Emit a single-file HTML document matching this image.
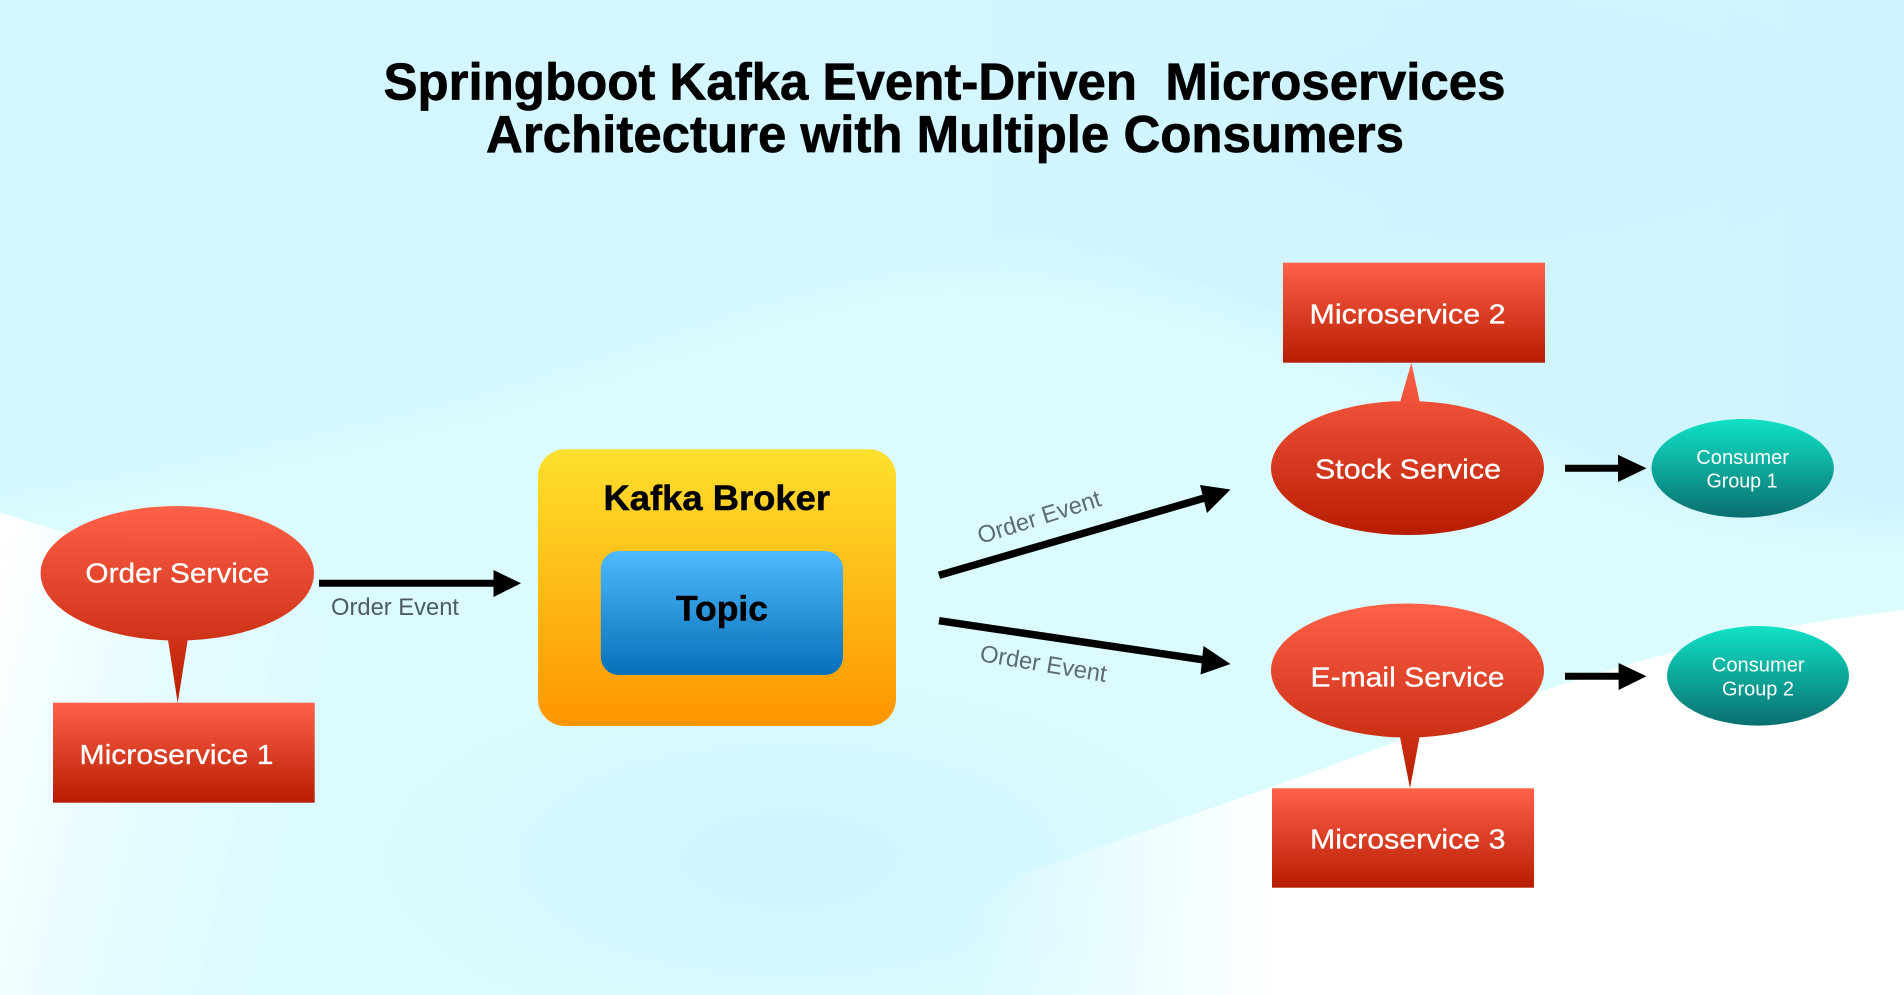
<!DOCTYPE html>
<html lang="en">
<head>
<meta charset="utf-8">
<title>Springboot Kafka Event-Driven Microservices</title>
<style>
html,body{margin:0;padding:0;width:1904px;height:995px;overflow:hidden;background:#fff}
svg{display:block}
text{font-family:"Liberation Sans",Arial,sans-serif}
.w{fill:#fff;stroke:#fff;stroke-width:.3px}
</style>
</head>
<body>
<svg width="1904" height="995" viewBox="0 0 1904 995" xmlns="http://www.w3.org/2000/svg">
<defs>
<linearGradient id="red" x1="0" y1="0" x2="0" y2="1"><stop offset="0" stop-color="#ff6149"/><stop offset="1" stop-color="#b71c00"/></linearGradient>
<linearGradient id="teal" x1="0" y1="0" x2="0" y2="1"><stop offset="0" stop-color="#10e2c6"/><stop offset="1" stop-color="#0a6f70"/></linearGradient>
<linearGradient id="yellow" x1="0" y1="0" x2="0" y2="1"><stop offset="0" stop-color="#fde02e"/><stop offset="1" stop-color="#ff9500"/></linearGradient>
<linearGradient id="blue" x1="0" y1="0" x2="0" y2="1"><stop offset="0" stop-color="#4fbaff"/><stop offset="1" stop-color="#0670b8"/></linearGradient>
<linearGradient id="whL" gradientUnits="userSpaceOnUse" x1="0" y1="560" x2="360" y2="640"><stop offset="0" stop-color="#fff"/><stop offset=".14" stop-color="#fff" stop-opacity=".75"/><stop offset=".55" stop-color="#fff" stop-opacity=".25"/><stop offset="1" stop-color="#fff" stop-opacity="0"/></linearGradient>
<linearGradient id="whR" gradientUnits="userSpaceOnUse" x1="960" y1="0" x2="1285" y2="0"><stop offset="0" stop-color="#fff" stop-opacity="0"/><stop offset=".35" stop-color="#fff" stop-opacity=".3"/><stop offset="1" stop-color="#fff"/></linearGradient>
<radialGradient id="blobA" gradientUnits="userSpaceOnUse" cx="790" cy="860" r="190" gradientTransform="translate(790 860) scale(2.263 1) translate(-790 -860)"><stop offset="0" stop-color="#cdf3ff"/><stop offset="1" stop-color="#cdf3ff" stop-opacity="0"/></radialGradient>
<radialGradient id="blobB" gradientUnits="userSpaceOnUse" cx="1500" cy="120" r="170" gradientTransform="translate(1500 120) scale(2.47 1) translate(-1500 -120)"><stop offset="0" stop-color="#cdf3ff"/><stop offset="1" stop-color="#cdf3ff" stop-opacity="0"/></radialGradient>
<linearGradient id="topw" gradientUnits="userSpaceOnUse" x1="0" y1="0" x2="1904" y2="0"><stop offset="0" stop-color="#d4f7ff"/><stop offset=".5" stop-color="#d3f6ff"/><stop offset="1" stop-color="#d0f4ff"/></linearGradient>
<filter id="b1" filterUnits="userSpaceOnUse" x="0" y="0" width="1904" height="995"><feGaussianBlur stdDeviation="16"/></filter>
</defs>

<rect width="1904" height="995" fill="#dbfbff"/>
<path d="M-60,-60H1964V530C1780,535 1660,510 1500,430C1340,350 1130,270 960,270C780,280 620,370 400,420C250,455 100,490 -60,510Z" fill="url(#topw)" filter="url(#b1)"/>
<rect x="360" y="670" width="860" height="325" fill="url(#blobA)" opacity=".8"/>
<rect x="1080" y="0" width="824" height="290" fill="url(#blobB)" opacity=".6"/>
<path d="M0,513C60,530 200,575 310,610C400,635 500,650 600,680V995H0Z" fill="url(#whL)"/>
<path d="M1904,610C1800,622 1700,640 1545,690C1450,720 1350,760 1240,798C1160,826 1090,850 1036,870C980,900 930,950 900,995H1904Z" fill="url(#whR)"/>

<text x="383.5" y="99.5" font-size="52" font-weight="700" fill="#000" stroke="#000" stroke-width=".7" textLength="1122" lengthAdjust="spacingAndGlyphs" xml:space="preserve">Springboot Kafka Event-Driven &#160;Microservices</text>
<text x="486" y="152" font-size="52" font-weight="700" fill="#000" stroke="#000" stroke-width=".7" textLength="918" lengthAdjust="spacingAndGlyphs">Architecture with Multiple Consumers</text>

<!-- Order Service -->
<path d="M40.6,573.3A136.7,67.3 0 1 1 314,573.3A136.7,67.3 0 1 1 40.6,573.3ZM189.3,630L177.7,703L166.5,630Z" fill="url(#red)"/>
<text class="w" x="85.4" y="582.7" font-size="28" textLength="184" lengthAdjust="spacingAndGlyphs">Order Service</text>
<rect x="53" y="702.7" width="261.7" height="100" fill="url(#red)"/>
<text class="w" x="79.5" y="764" font-size="28" textLength="194" lengthAdjust="spacingAndGlyphs">Microservice 1</text>

<!-- Arrow 1 -->
<path d="M319,583.3H500" stroke="#000" stroke-width="7" fill="none"/>
<polygon points="493.5,570 521,583.3 493.5,597" fill="#000"/>
<text x="331" y="615" font-size="24" fill="#4c5b66" textLength="128" lengthAdjust="spacingAndGlyphs">Order Event</text>

<!-- Broker -->
<rect x="538" y="449.3" width="358" height="276.7" rx="27" ry="27" fill="url(#yellow)"/>
<text x="603.5" y="510" font-size="35" font-weight="700" fill="#000" stroke="#000" stroke-width=".5" textLength="226.5" lengthAdjust="spacingAndGlyphs">Kafka Broker</text>
<rect x="600.8" y="551" width="242.2" height="124" rx="18" ry="18" fill="url(#blue)"/>
<text x="676" y="620.5" font-size="35" font-weight="700" fill="#000" stroke="#000" stroke-width=".5" textLength="92" lengthAdjust="spacingAndGlyphs">Topic</text>

<!-- Arrows to services -->
<path d="M939,575.3L1208,497" stroke="#000" stroke-width="7.5" fill="none"/>
<polygon points="1200,485 1230.5,489.5 1207,513" fill="#000"/>
<text transform="translate(980.5,544) rotate(-17.5)" font-size="24" fill="#5c6a74" textLength="128" lengthAdjust="spacingAndGlyphs">Order Event</text>
<path d="M939,620.7L1208,660.5" stroke="#000" stroke-width="7.5" fill="none"/>
<polygon points="1203.5,646 1230.5,664 1200.5,674.5" fill="#000"/>
<text transform="translate(979,661) rotate(9.5)" font-size="24" fill="#5c6a74" textLength="128" lengthAdjust="spacingAndGlyphs">Order Event</text>

<!-- Stock Service -->
<rect x="1283" y="262.7" width="262" height="100" fill="url(#red)"/>
<text class="w" x="1309.5" y="323.3" font-size="28" textLength="196" lengthAdjust="spacingAndGlyphs">Microservice 2</text>
<path d="M1271,468A136.5,67 0 1 1 1544,468A136.5,67 0 1 1 1271,468ZM1397.8,410L1411.4,362.7L1421.5,410Z" fill="url(#red)"/>
<text class="w" x="1315" y="478.7" font-size="28" textLength="186" lengthAdjust="spacingAndGlyphs">Stock Service</text>
<path d="M1565,468.3H1622" stroke="#000" stroke-width="7" fill="none"/>
<polygon points="1618,454.7 1646.5,468.3 1618,482" fill="#000"/>
<ellipse cx="1742.7" cy="468.3" rx="91.2" ry="49.3" fill="url(#teal)"/>
<text x="1696.3" y="464" font-size="20" fill="#fff" textLength="92.7" lengthAdjust="spacingAndGlyphs">Consumer</text>
<text x="1706.5" y="487.3" font-size="20" fill="#fff" textLength="71" lengthAdjust="spacingAndGlyphs">Group 1</text>

<!-- Email Service -->
<path d="M1271,670.5A136.5,67 0 1 1 1544,670.5A136.5,67 0 1 1 1271,670.5ZM1420.9,730L1410,788.3L1398.6,730Z" fill="url(#red)"/>
<text class="w" x="1310.5" y="686.7" font-size="28" textLength="194" lengthAdjust="spacingAndGlyphs">E-mail Service</text>
<rect x="1272" y="788.3" width="262" height="99.4" fill="url(#red)"/>
<text class="w" x="1310" y="848.7" font-size="28" textLength="195.5" lengthAdjust="spacingAndGlyphs">Microservice 3</text>
<path d="M1565,676.3H1622" stroke="#000" stroke-width="7" fill="none"/>
<polygon points="1618.6,663 1646.5,676.3 1618.6,690" fill="#000"/>
<ellipse cx="1758" cy="675.8" rx="91" ry="49.8" fill="url(#teal)"/>
<text x="1711.8" y="671.7" font-size="20" fill="#fff" textLength="92.8" lengthAdjust="spacingAndGlyphs">Consumer</text>
<text x="1722" y="695.3" font-size="20" fill="#fff" textLength="72" lengthAdjust="spacingAndGlyphs">Group 2</text>
</svg>
</body>
</html>
